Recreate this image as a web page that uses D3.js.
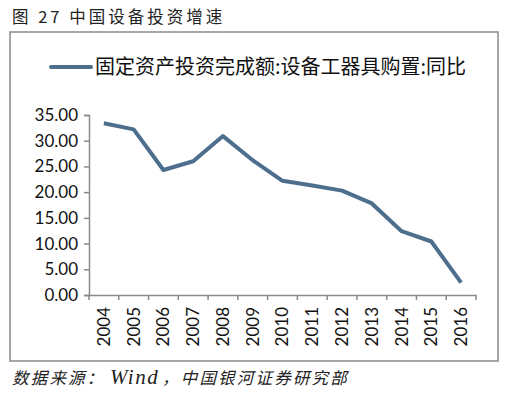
<!DOCTYPE html>
<html><head><meta charset="utf-8">
<script src="https://cdn.jsdelivr.net/npm/d3@7"></script>
<style>body{margin:0;background:#fff}</style>
</head><body>
<script>
const years = ["2004","2005","2006","2007","2008","2009","2010","2011","2012","2013","2014","2015","2016"];
const growth = [33.4,32.2,24.3,26.0,30.9,26.2,22.2,21.3,20.3,17.8,12.4,10.4,2.4];
const yTicks = [0,5,10,15,20,25,30,35];
const seriesName = "固定资产投资完成额:设备工器具购置:同比";
const title = "图 27 中国设备投资增速";
const sourceA = "数据来源：";
const sourceB = "Wind";
const sourceC = "，中国银河证券研究部";

const W=527,H=395;
const svg=d3.select("body").append("svg").attr("width",W).attr("height",H);
svg.append("rect").attr("width",W).attr("height",H).attr("fill","#fff");
svg.append("text").attr("x",12).attr("y",23).attr("font-family","Noto Sans CJK SC").attr("font-size",16.5).attr("letter-spacing",3).attr("fill","#222").text(title);
svg.append("rect").attr("x",10).attr("y",32).attr("width",488).attr("height",329).attr("fill","none").attr("stroke","#8a8a8a").attr("stroke-width",1.5);

const x=d3.scaleBand().domain(years).range([89,476]);
const y=d3.scaleLinear().domain([0,35]).range([295,115]);
const axisColor="#8a8a8a";
const gy=svg.append("g").attr("transform","translate(89,0)").call(d3.axisLeft(y).tickValues(yTicks).tickFormat(d3.format(".2f")).tickSize(5).tickPadding(6));
const gx=svg.append("g").attr("transform","translate(0,295)").call(d3.axisBottom(x).tickSize(0).tickPadding(0));
[gy,gx].forEach(g=>{g.select(".domain").attr("stroke",axisColor).attr("stroke-width",1.5);g.selectAll(".tick line").attr("stroke",axisColor).attr("stroke-width",1.5);});
gy.selectAll("text").attr("font-family","Lato").attr("font-size",17).attr("fill","#111");
gx.selectAll(".tick text").attr("font-family","Lato").attr("font-size",17).attr("fill","#111")
  .attr("transform","rotate(-90)").attr("text-anchor","end").attr("x",-12).attr("y",0).attr("dy","0.35em");
// category boundary ticks
svg.append("g").selectAll("line").data(years.concat(["end"])).join("line")
  .attr("x1",(d,i)=>i<years.length?x(d):x.range()[1]).attr("x2",(d,i)=>i<years.length?x(d):x.range()[1])
  .attr("y1",295).attr("y2",300).attr("stroke",axisColor).attr("stroke-width",1.5);

const line=d3.line().x((d,i)=>x(years[i])+x.bandwidth()/2).y(d=>y(d));
svg.append("path").datum(growth).attr("d",line).attr("fill","none").attr("stroke","#4d6f8d").attr("stroke-width",4).attr("stroke-linejoin","round");

// legend
svg.append("line").attr("x1",51).attr("x2",91).attr("y1",67).attr("y2",67).attr("stroke","#4d6f8d").attr("stroke-width",4).attr("stroke-linecap","round");
svg.append("text").attr("x",95).attr("y",74).attr("font-family","Noto Sans CJK SC").attr("font-size",20).attr("fill","#111").text(seriesName);

const src=svg.append("text").attr("y",384).attr("font-family","Noto Sans CJK SC").attr("font-style","italic").attr("font-size",16.5).attr("letter-spacing",2.2).attr("fill","#222");
src.append("tspan").attr("x",12).text(sourceA);
src.append("tspan").attr("x",110).attr("font-family","Liberation Serif").attr("font-style","italic").attr("font-size",21).attr("letter-spacing",1.5).text(sourceB);
src.append("tspan").attr("x",162).text(sourceC);
</script>
</body></html>
